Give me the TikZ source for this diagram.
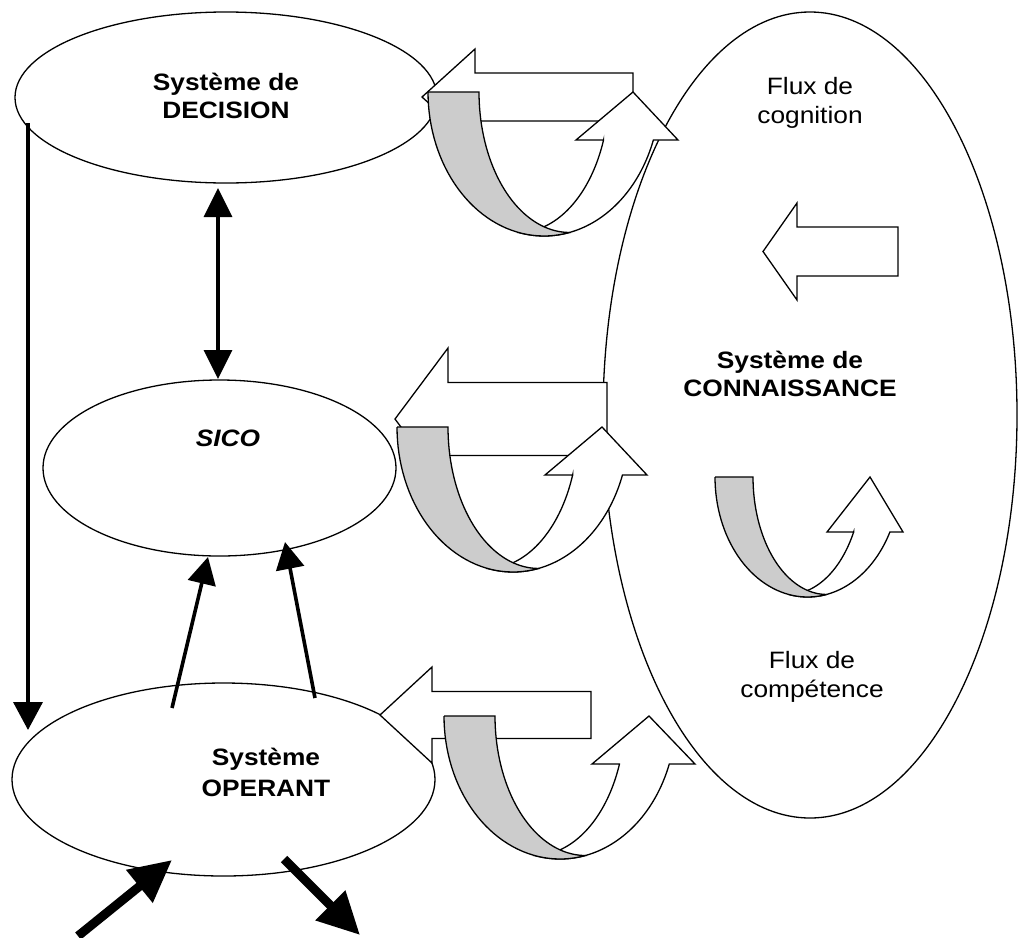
\documentclass[tikz,border=0pt]{standalone}
\usepackage{fontspec}
\usetikzlibrary{shapes.geometric,arrows.meta}
\newfontfamily\labelfont[FakeStretch=1.11]{Liberation Sans}
\definecolor{backgray}{RGB}{204,204,204}
\tikzset{
  outline/.style={draw=black, line width=1.3pt, line join=miter},
  sysellipse/.style={ellipse, outline, fill=white, inner sep=0pt, outer sep=0pt},
  lbl/.style={font=\labelfont\fontsize{23.7}{29}\selectfont, align=center, inner sep=0pt},
  heavy/.style={line width=3.6pt, -{Triangle[length=28pt,width=29pt]}},
  heavyboth/.style={line width=3.6pt, {Triangle[length=29pt,width=28pt]}-{Triangle[length=29pt,width=28pt]}},
  thick arrow/.style={line width=9pt, -{Triangle[length=42pt,width=40pt]}}
}
% block arrow pointing left: tip x, tip y, head back x, head half height, shaft half height, tail x
\newcommand{\blockarrow}[6]{%
  \draw[outline, fill=white] (#1,#2) -- (#3,#2-#4) -- (#3,#2-#5) -- (#6,#2-#5)
    -- (#6,#2+#5) -- (#3,#2+#5) -- (#3,#2+#4) -- cycle;}
% curved U-turn arrow: x0, y0, band width g, depth H, head length hl, outer radius r, head left, head right, tip x
\newcommand{\uturnarrow}[9]{%
  \begin{scope}[shift={(#1,#2)}]
    \pgfmathsetmacro{\uTz}{asin(#5/#4)}
    \pgfmathsetmacro{\uRi}{#6-#3/2}
    \pgfmathsetmacro{\uRy}{#4*sqrt(1-(#3/(2*#6))^2)}
    \pgfmathsetmacro{\uTi}{asin(#5/\uRy)}
    \pgfmathsetmacro{\uTa}{acos(#3/(2*#6))}
    \pgfmathsetmacro{\uTb}{180-\uTa}
    \pgfmathsetmacro{\uSi}{\uRi+\uRi*cos(\uTi)}
    \pgfmathsetmacro{\uCb}{#6+#3/2}
    \draw[outline, fill=white]
      plot[domain=\uTb:\uTz, samples=50] ({#6+#6*cos(\x)},{#4*sin(\x)})
      -- (#8,#5) -- (#9,0) -- (#7,#5) -- (\uSi,#5)
      -- plot[domain=\uTi:90, samples=40] ({\uRi+\uRi*cos(\x)},{\uRy*sin(\x)}) -- cycle;
    \draw[outline, fill=backgray]
      (0,0) -- (#3,0)
      -- plot[domain=180:90, samples=40] ({\uCb+\uRi*cos(\x)},{\uRy*sin(\x)})
      -- plot[domain=\uTa:180, samples=40] ({#6+#6*cos(\x)},{#4*sin(\x)}) -- cycle;
  \end{scope}}
\begin{document}
\begin{tikzpicture}[x=1pt, y=-1pt]
  \useasboundingbox (0,0) rectangle (1019,937);
  % ellipses
  \node[sysellipse, minimum width=414pt, minimum height=806pt] (conn) at (810,415) {};
  \node[sysellipse, minimum width=422pt, minimum height=171pt] (dec) at (226,97.5) {};
  \node[sysellipse, minimum width=353pt, minimum height=176pt] (sico) at (219.5,468) {};
  \node[sysellipse, minimum width=423pt, minimum height=193pt] (oper) at (223.5,779.5) {};
  % block arrows towards the left systems
  \blockarrow{422}{97}{475}{48}{24}{633}
  \blockarrow{395}{419}{448}{71}{36.5}{607}
  \blockarrow{380}{715}{432}{48}{23.5}{591}
  % U-turn arrows
  \uturnarrow{428}{92}{51}{144}{48}{116}{148}{250}{205}
  \uturnarrow{397}{427}{51}{145}{48}{116}{148}{250}{205}
  \uturnarrow{444}{716}{51}{143}{48}{116}{148}{251}{205}
  % inside the knowledge system
  \blockarrow{763}{251.5}{797}{48.5}{24.5}{898}
  \uturnarrow{715}{477}{38}{120}{55}{92.6}{112}{188}{155}
  % texts
  \node[lbl, font=\labelfont\bfseries\fontsize{23.7}{28}\selectfont] (tdec) at (226,96) {Système de\\DECISION};
  \node[lbl, font=\labelfont\bfseries\itshape\fontsize{23.7}{28}\selectfont] (tsico) at (228,438) {SICO};
  \node[lbl, font=\labelfont\bfseries\fontsize{23.7}{31}\selectfont] (toper) at (266,772) {Système\\OPERANT};
  \node[lbl, font=\labelfont\bfseries\fontsize{23.7}{28}\selectfont] (tconn) at (790,374) {Système de\\CONNAISSANCE};
  \node[lbl] (tcog) at (810,103) {Flux de\\cognition};
  \node[lbl] (tcomp) at (812,677) {Flux de\\compétence};
  % connector end points
  \coordinate (vTop) at (28,123);
  \coordinate (vEnd) at (28,730);
  \coordinate (dTop) at (218,188);
  \coordinate (dBot) at (218,379);
  \coordinate (aStart) at (172,708);
  \coordinate (aEnd) at (208,557);
  \coordinate (bStart) at (315,698);
  \coordinate (bEnd) at (285,542);
  \coordinate (inStart) at (78,936);
  \coordinate (inEnd) at (172,860);
  \coordinate (outStart) at (284,859);
  \coordinate (outEnd) at (360,935);
  % connectors
  \draw[heavy] (vTop) -- (vEnd);
  \draw[heavyboth] (dTop) -- (dBot);
  \draw[heavy, -{Triangle[length=27pt,width=28pt]}] (aStart) -- (aEnd);
  \draw[heavy, -{Triangle[length=27pt,width=28pt]}] (bStart) -- (bEnd);
  \draw[thick arrow] (inStart) -- (inEnd);
  \draw[thick arrow] (outStart) -- (outEnd);
\end{tikzpicture}
\end{document}
